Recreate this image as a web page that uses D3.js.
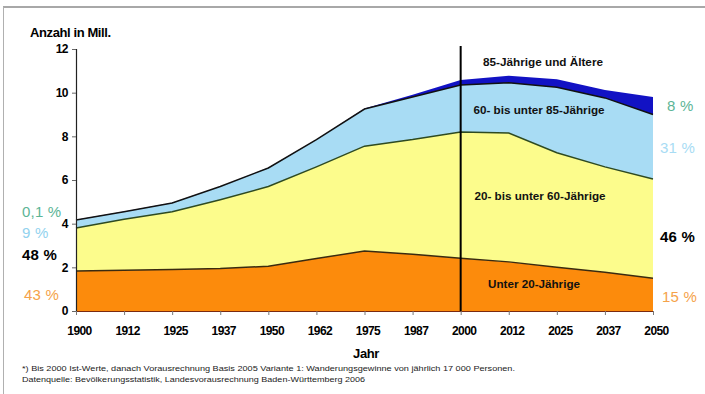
<!DOCTYPE html>
<html>
<head>
<meta charset="utf-8">
<script src="https://cdn.jsdelivr.net/npm/d3@7"></script>
<style>
  body { margin: 0; background: #fff; }
  text { font-family: "Liberation Sans", Arial, sans-serif; }
</style>
</head>
<body>
<svg id="chart" width="705" height="394"></svg>
<script>
// years (12.5 year steps) and tick labels
var years = [1900, 1912.5, 1925, 1937.5, 1950, 1962.5, 1975, 1987.5, 2000, 2012.5, 2025, 2037.5, 2050];
var tickLabels = ["1900","1912","1925","1937","1950","1962","1975","1987","2000","2012","2025","2037","2050"];
var yTicks = [0, 2, 4, 6, 8, 10, 12];

// population in millions per age group
var unter20  = [1.83, 1.87, 1.90, 1.95, 2.05, 2.40, 2.75, 2.60, 2.42, 2.25, 2.00, 1.77, 1.50];
var bis60    = [1.97, 2.33, 2.65, 3.15, 3.65, 4.20, 4.80, 5.25, 5.78, 5.90, 5.25, 4.83, 4.55];
var bis85    = [0.37, 0.35, 0.40, 0.60, 0.85, 1.25, 1.70, 1.95, 2.15, 2.30, 3.00, 3.16, 2.95];
var ab85     = [0.005, 0.005, 0.005, 0.005, 0.01, 0.01, 0.02, 0.10, 0.23, 0.32, 0.36, 0.36, 0.80];

var keys = ["u20", "b60", "b85", "a85"];
var colors = { u20: "#fc8b0c", b60: "#fcfc8c", b85: "#a8dcf4", a85: "#1212c4" };
var lineColors = { u20: "#3a2a10", b60: "#2e4a20", b85: "#111", a85: "#1212c4" };

var rows = years.map(function(y, i){
  return { year: y, u20: unter20[i], b60: bis60[i], b85: bis85[i], a85: ab85[i] };
});

var svg = d3.select("#chart");

// frame
svg.append("line").attr("x1", 3).attr("y1", 7).attr("x2", 705).attr("y2", 7)
  .attr("stroke", "#a8a8a8").attr("stroke-width", 2);
svg.append("line").attr("x1", 3.5).attr("y1", 7).attr("x2", 3.5).attr("y2", 394)
  .attr("stroke", "#b0b0b0").attr("stroke-width", 1);

var x = d3.scaleLinear().domain([1900, 2050]).range([76, 653]);
var y = d3.scaleLinear().domain([0, 12]).range([311, 49]);

var series = d3.stack().keys(keys)(rows);

var area = d3.area()
  .x(function(d){ return x(d.data.year); })
  .y0(function(d){ return y(d[0]); })
  .y1(function(d){ return y(d[1]); });

var topLine = d3.line()
  .x(function(d){ return x(d.data.year); })
  .y(function(d){ return y(d[1]); });

svg.selectAll(".layer").data(series).enter().append("path")
  .attr("class", "layer")
  .attr("d", area)
  .attr("fill", function(d){ return colors[d.key]; });

svg.selectAll(".edge").data(series.slice(0, 3)).enter().append("path")
  .attr("class", "edge")
  .attr("d", topLine)
  .attr("fill", "none")
  .attr("stroke", function(d){ return lineColors[d.key]; })
  .attr("stroke-width", 1.5);

// axes
var yAxis = svg.append("g").attr("transform", "translate(76,0)")
  .call(d3.axisLeft(y).tickValues(yTicks).tickSize(4).tickPadding(4));
yAxis.select(".domain").attr("stroke", "#222").attr("stroke-width", 1.2);
yAxis.selectAll(".tick line").attr("stroke", "#666");
yAxis.selectAll("text").attr("font-size", 12).attr("font-weight", "bold")
  .attr("fill", "#000").style("letter-spacing", "-0.5px");

var xAxis = svg.append("g").attr("transform", "translate(0,311)")
  .call(d3.axisBottom(x).tickValues(years).tickFormat(function(d, i){ return tickLabels[i]; })
    .tickSize(4).tickSizeOuter(0).tickPadding(11));
xAxis.select(".domain").attr("stroke", "#7a2a10").attr("stroke-width", 1.2);
xAxis.selectAll(".tick line").attr("stroke", "#777");
xAxis.selectAll("text").attr("font-size", 12).attr("font-weight", "bold")
  .attr("fill", "#000").attr("dx", 3).style("letter-spacing", "-0.6px");

// 2000 divider
svg.append("line")
  .attr("x1", x(2000)).attr("x2", x(2000))
  .attr("y1", 46).attr("y2", 311)
  .attr("stroke", "#000").attr("stroke-width", 2);

// titles
svg.append("text").attr("x", 30).attr("y", 37).text("Anzahl in Mill.")
  .attr("font-size", 13).attr("font-weight", "bold").style("letter-spacing", "-0.4px");
svg.append("text").attr("x", 366).attr("y", 358).attr("text-anchor", "middle").text("Jahr")
  .attr("font-size", 13).attr("font-weight", "bold").style("letter-spacing", "-0.4px");

// footnotes
svg.append("text").attr("x", 22).attr("y", 371).attr("font-size", 7.5).attr("fill", "#222")
  .attr("textLength", 493).attr("lengthAdjust", "spacingAndGlyphs")
  .text("*) Bis 2000 Ist-Werte, danach Vorausrechnung Basis 2005 Variante 1: Wanderungsgewinne von jährlich 17 000 Personen.");
svg.append("text").attr("x", 22).attr("y", 382).attr("font-size", 7.5).attr("fill", "#222")
  .attr("textLength", 343).attr("lengthAdjust", "spacingAndGlyphs")
  .text("Datenquelle: Bevölkerungsstatistik, Landesvorausrechnung Baden-Württemberg 2006");

// layer labels
var layerLabels = [
  { t: "85-Jährige und Ältere", x: 543, y: 66, w: 120 },
  { t: "60- bis unter 85-Jährige", x: 539, y: 114, w: 131 },
  { t: "20- bis unter 60-Jährige", x: 540, y: 200, w: 131 },
  { t: "Unter 20-Jährige", x: 534, y: 288, w: 92 }
];
svg.selectAll(".ll").data(layerLabels).enter().append("text")
  .attr("class", "ll")
  .attr("x", function(d){ return d.x - d.w / 2; })
  .attr("y", function(d){ return d.y; })
  .attr("textLength", function(d){ return d.w; })
  .attr("lengthAdjust", "spacingAndGlyphs")
  .attr("font-size", 10).attr("font-weight", "bold").attr("fill", "#111")
  .text(function(d){ return d.t; });

// share labels 1900 / 2050
var shares = [
  { t: "0,1 %", x: 22, y: 217, c: "#5cb596" },
  { t: "9 %",   x: 22, y: 238, c: "#92d2ee" },
  { t: "48 %",  x: 22, y: 260, c: "#000" },
  { t: "43 %",  x: 24, y: 300, c: "#f5a24a" },
  { t: "8 %",   x: 667, y: 111, c: "#5cb596" },
  { t: "31 %",  x: 660, y: 153, c: "#a8dcf4" },
  { t: "46 %",  x: 660, y: 242, c: "#000" },
  { t: "15 %",  x: 662, y: 302, c: "#f5a24a" }
];
svg.selectAll(".sh").data(shares).enter().append("text")
  .attr("class", "sh")
  .attr("x", function(d){ return d.x; })
  .attr("y", function(d){ return d.y; })
  .attr("fill", function(d){ return d.c; })
  .attr("font-size", 15)
  .attr("font-weight", function(d){ return d.c === "#000" ? "bold" : "normal"; })
  .style("letter-spacing", "0.2px")
  .text(function(d){ return d.t; });
</script>
</body>
</html>
